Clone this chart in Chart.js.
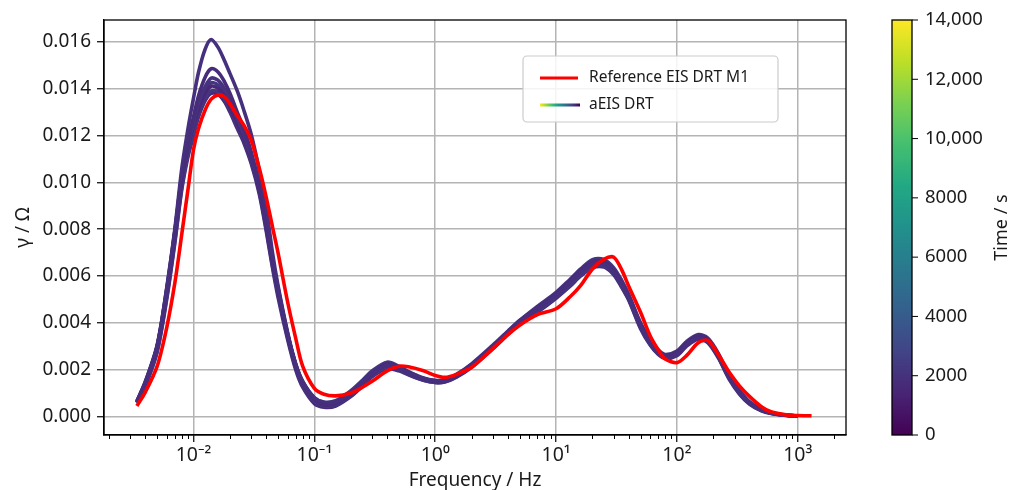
<!DOCTYPE html>
<html><head><meta charset="utf-8">
<script src="https://cdn.jsdelivr.net/npm/chart.js@4.4.1/dist/chart.umd.min.js"></script>
<style>html,body{margin:0;padding:0;background:#fff;}</style>
</head><body>
<canvas id="c" width="1019" height="490"></canvas>
<script>
// ---------- data ----------
const freqs = [0.0034,0.004,0.005,0.006,0.007,0.008,0.009,0.01,0.011,0.0125,0.014,0.016,0.018,0.02,0.023,0.026,0.03,0.035,0.04,0.045,0.05,0.06,0.07,0.08,0.1,0.12,0.15,0.2,0.25,0.3,0.4,0.5,0.6,0.8,1,1.2,1.5,2,3,4,5,7,10,13,16,20,25,30,35,40,50,60,70,80,100,120,150,180,220,270,330,400,500,600,800,1000,1300];

const refDRT = [0.45e-3,1.05e-3,2.15e-3,3.8e-3,5.7e-3,7.8e-3,9.7e-3,11.4e-3,12.3e-3,13.1e-3,13.55e-3,13.73e-3,13.65e-3,13.35e-3,12.85e-3,12.45e-3,11.8e-3,10.6e-3,9.35e-3,8.1e-3,7.0e-3,4.9e-3,3.35e-3,2.15e-3,1.2e-3,0.95e-3,0.88e-3,1.0e-3,1.25e-3,1.5e-3,1.95e-3,2.15e-3,2.12e-3,1.95e-3,1.75e-3,1.67e-3,1.8e-3,2.1e-3,2.9e-3,3.5e-3,3.9e-3,4.35e-3,4.6e-3,5.1e-3,5.6e-3,6.3e-3,6.72e-3,6.8e-3,6.25e-3,5.55e-3,4.45e-3,3.45e-3,2.85e-3,2.45e-3,2.3e-3,2.6e-3,3.15e-3,3.25e-3,2.65e-3,1.9e-3,1.3e-3,0.85e-3,0.42e-3,0.2e-3,0.07e-3,0.04e-3,0.03e-3];

const aeis1 = [0.6e-3,1.4e-3,3.0e-3,5.5e-3,8.0e-3,10.6e-3,12.3e-3,13.6e-3,14.7e-3,15.7e-3,16.1e-3,15.75e-3,15.2e-3,14.65e-3,13.9e-3,13.1e-3,12.05e-3,10.5e-3,8.9e-3,7.0e-3,5.6e-3,3.6e-3,2.25e-3,1.5e-3,0.8e-3,0.6e-3,0.62e-3,1.0e-3,1.45e-3,1.85e-3,2.18e-3,2.05e-3,1.85e-3,1.62e-3,1.52e-3,1.55e-3,1.78e-3,2.22e-3,3.0e-3,3.6e-3,4.05e-3,4.6e-3,5.15e-3,5.7e-3,6.15e-3,6.5e-3,6.5e-3,6.15e-3,5.6e-3,5.05e-3,3.85e-3,3.15e-3,2.7e-3,2.5e-3,2.65e-3,3.05e-3,3.35e-3,3.2e-3,2.55e-3,1.65e-3,1.0e-3,0.55e-3,0.26e-3,0.14e-3,0.05e-3,0.02e-3];
const aeis2 = [0.62e-3,1.45e-3,3.0e-3,5.4e-3,7.9e-3,10.3e-3,11.8e-3,12.8e-3,13.7e-3,14.5e-3,14.85e-3,14.7e-3,14.3e-3,13.8e-3,13.0e-3,12.3e-3,11.3e-3,9.9e-3,8.3e-3,6.7e-3,5.5e-3,3.55e-3,2.2e-3,1.45e-3,0.72e-3,0.5e-3,0.55e-3,0.95e-3,1.4e-3,1.8e-3,2.25e-3,2.1e-3,1.9e-3,1.62e-3,1.5e-3,1.5e-3,1.72e-3,2.18e-3,3.0e-3,3.62e-3,4.1e-3,4.65e-3,5.25e-3,5.8e-3,6.25e-3,6.6e-3,6.6e-3,6.25e-3,5.7e-3,5.15e-3,3.95e-3,3.25e-3,2.8e-3,2.6e-3,2.75e-3,3.15e-3,3.45e-3,3.3e-3,2.65e-3,1.75e-3,1.1e-3,0.6e-3,0.3e-3,0.16e-3,0.05e-3,0.02e-3];
const aeis3 = [0.65e-3,1.5e-3,3.0e-3,5.35e-3,7.8e-3,10.2e-3,11.6e-3,12.5e-3,13.4e-3,14.1e-3,14.45e-3,14.35e-3,14.0e-3,13.5e-3,12.75e-3,12.05e-3,11.1e-3,9.8e-3,8.2e-3,6.65e-3,5.45e-3,3.5e-3,2.2e-3,1.45e-3,0.75e-3,0.55e-3,0.6e-3,1.0e-3,1.45e-3,1.85e-3,2.2e-3,2.05e-3,1.85e-3,1.6e-3,1.5e-3,1.52e-3,1.75e-3,2.2e-3,3.0e-3,3.6e-3,4.05e-3,4.6e-3,5.2e-3,5.75e-3,6.2e-3,6.55e-3,6.55e-3,6.2e-3,5.65e-3,5.1e-3,3.9e-3,3.2e-3,2.75e-3,2.55e-3,2.7e-3,3.1e-3,3.4e-3,3.25e-3,2.6e-3,1.7e-3,1.05e-3,0.58e-3,0.28e-3,0.15e-3,0.05e-3,0.02e-3];
const aeis4 = [0.63e-3,1.45e-3,2.95e-3,5.3e-3,7.75e-3,10.1e-3,11.5e-3,12.4e-3,13.1e-3,13.8e-3,14.1e-3,14.0e-3,13.7e-3,13.2e-3,12.5e-3,11.9e-3,11.0e-3,9.7e-3,8.1e-3,6.6e-3,5.4e-3,3.5e-3,2.2e-3,1.45e-3,0.75e-3,0.55e-3,0.6e-3,1.0e-3,1.45e-3,1.85e-3,2.2e-3,2.05e-3,1.85e-3,1.6e-3,1.5e-3,1.52e-3,1.75e-3,2.2e-3,3.0e-3,3.6e-3,4.05e-3,4.6e-3,5.2e-3,5.75e-3,6.2e-3,6.55e-3,6.55e-3,6.2e-3,5.65e-3,5.1e-3,3.9e-3,3.2e-3,2.75e-3,2.55e-3,2.7e-3,3.1e-3,3.4e-3,3.25e-3,2.6e-3,1.7e-3,1.05e-3,0.58e-3,0.28e-3,0.15e-3,0.05e-3,0.02e-3];
const aeis5 = [0.6e-3,1.35e-3,2.8e-3,5.1e-3,7.5e-3,9.8e-3,11.2e-3,12.1e-3,12.9e-3,13.6e-3,13.9e-3,13.85e-3,13.55e-3,13.1e-3,12.4e-3,11.8e-3,10.9e-3,9.6e-3,8.0e-3,6.45e-3,5.25e-3,3.4e-3,2.1e-3,1.35e-3,0.65e-3,0.45e-3,0.5e-3,0.9e-3,1.35e-3,1.75e-3,2.1e-3,2.0e-3,1.8e-3,1.55e-3,1.45e-3,1.48e-3,1.7e-3,2.15e-3,2.95e-3,3.55e-3,4.0e-3,4.5e-3,5.1e-3,5.6e-3,6.05e-3,6.4e-3,6.42e-3,6.1e-3,5.55e-3,5.0e-3,3.8e-3,3.1e-3,2.68e-3,2.5e-3,2.65e-3,3.05e-3,3.35e-3,3.2e-3,2.55e-3,1.65e-3,1.0e-3,0.55e-3,0.26e-3,0.14e-3,0.05e-3,0.02e-3];
const aeis6 = [0.58e-3,1.3e-3,2.75e-3,5.0e-3,7.4e-3,9.7e-3,11.1e-3,12.0e-3,12.8e-3,13.5e-3,13.8e-3,13.75e-3,13.45e-3,13.0e-3,12.3e-3,11.7e-3,10.8e-3,9.5e-3,7.9e-3,6.35e-3,5.1e-3,3.3e-3,2.0e-3,1.25e-3,0.55e-3,0.4e-3,0.45e-3,0.85e-3,1.3e-3,1.7e-3,2.05e-3,1.95e-3,1.78e-3,1.55e-3,1.45e-3,1.47e-3,1.68e-3,2.1e-3,2.9e-3,3.5e-3,3.95e-3,4.45e-3,5.05e-3,5.55e-3,6.0e-3,6.35e-3,6.38e-3,6.05e-3,5.5e-3,4.95e-3,3.75e-3,3.05e-3,2.65e-3,2.48e-3,2.6e-3,3.0e-3,3.3e-3,3.15e-3,2.5e-3,1.6e-3,0.95e-3,0.52e-3,0.24e-3,0.13e-3,0.04e-3,0.02e-3];
const aeis7 = [0.66e-3,1.5e-3,3.05e-3,5.45e-3,7.9e-3,10.3e-3,11.7e-3,12.6e-3,13.3e-3,13.95e-3,14.25e-3,14.15e-3,13.8e-3,13.35e-3,12.6e-3,11.95e-3,11.05e-3,9.75e-3,8.15e-3,6.6e-3,5.4e-3,3.5e-3,2.25e-3,1.5e-3,0.8e-3,0.62e-3,0.68e-3,1.1e-3,1.55e-3,1.95e-3,2.32e-3,2.15e-3,1.92e-3,1.65e-3,1.55e-3,1.56e-3,1.8e-3,2.25e-3,3.05e-3,3.65e-3,4.1e-3,4.7e-3,5.3e-3,5.85e-3,6.3e-3,6.7e-3,6.7e-3,6.35e-3,5.8e-3,5.2e-3,4.0e-3,3.3e-3,2.85e-3,2.65e-3,2.8e-3,3.2e-3,3.5e-3,3.35e-3,2.7e-3,1.75e-3,1.1e-3,0.62e-3,0.3e-3,0.16e-3,0.06e-3,0.02e-3];

const yTicks = [0,0.002,0.004,0.006,0.008,0.010,0.012,0.014,0.016];
const xMajorTicks = [0.01,0.1,1,10,100,1000];
const xTickLabels = ['10\u207B\u00B2','10\u207B\u00B9','10\u2070','10\u00B9','10\u00B2','10\u00B3'];
const cbTicks = [0,2000,4000,6000,8000,10000,12000,14000];
const cbTickLabels = ['0','2000','4000','6000','8000','10,000','12,000','14,000'];
const cbTitle = 'Time / s';

// ---------- styling ----------
const FONT = "'Noto Sans', 'DejaVu Sans', sans-serif";
const TXT = '#1a1a1a';
const GRID = '#b4b4b4';
const viridis = ['#440154','#482475','#414487','#355f8d','#2a788e','#21918c','#22a884','#44bf70','#7ad151','#bddf26','#fde725'];
const purpleColors = ['#46307e','#472c7a','#45337f','#482878','#443782','#472a79','#453480'];

const aeisSeries = [aeis1,aeis2,aeis3,aeis4,aeis5,aeis6,aeis7];
const toPts = arr => arr.map((v,i) => ({x: freqs[i], y: v}));
const isMajor = v => xMajorTicks.includes(v);

const datasets = [{
  label: 'Reference EIS DRT M1', data: toPts(refDRT), borderColor: '#ff0000',
  borderWidth: 3.6, pointRadius: 0, tension: 0.3, fill: false
}].concat(aeisSeries.map((a, i) => ({
  label: i === 0 ? 'aEIS DRT' : '', data: toPts(a), borderColor: purpleColors[i],
  borderWidth: 3.6, pointRadius: 0, tension: 0.3, fill: false
})));

const framePlugin = {
  id: 'frame',
  afterDraw(chart) {
    const {ctx, chartArea: a} = chart;
    const xs = chart.scales.x;
    ctx.save();
    ctx.strokeStyle = '#000'; ctx.lineWidth = 1;
    xs.ticks.forEach(t => {
      if (!isMajor(t.value)) {
        const px = Math.round(xs.getPixelForValue(t.value)) + 0.5;
        ctx.beginPath(); ctx.moveTo(px, a.bottom); ctx.lineTo(px, a.bottom + 4); ctx.stroke();
      }
    });
    ctx.lineWidth = 1.3; ctx.strokeStyle = '#000';
    ctx.strokeRect(a.left, a.top, a.right - a.left, a.bottom - a.top);

    // legend
    const lx = 523, ly = 56, lw = 255, lh = 66, r = 4;
    ctx.fillStyle = 'rgba(255,255,255,0.85)';
    ctx.strokeStyle = '#cccccc'; ctx.lineWidth = 1.2;
    ctx.beginPath(); ctx.roundRect(lx, ly, lw, lh, r); ctx.fill(); ctx.stroke();
    ctx.lineWidth = 3;
    ctx.strokeStyle = chart.data.datasets[0].borderColor;
    ctx.beginPath(); ctx.moveTo(540, 78); ctx.lineTo(578, 78); ctx.stroke();
    const g = ctx.createLinearGradient(540, 0, 580, 0);
    viridis.slice().reverse().forEach((c, i, arr) => g.addColorStop(i / (arr.length - 1), c));
    ctx.strokeStyle = g;
    ctx.beginPath(); ctx.moveTo(540, 105); ctx.lineTo(580, 105); ctx.stroke();
    ctx.fillStyle = TXT; ctx.font = "15.5px " + FONT; ctx.textBaseline = 'middle'; ctx.textAlign = 'left';
    ctx.fillText(chart.data.datasets[0].label, 589, 78);
    ctx.fillText(chart.data.datasets[1].label, 589, 105);

    // colorbar
    const cx = 892, cw = 20, top = a.top, bot = a.bottom;
    const cg = ctx.createLinearGradient(0, bot, 0, top);
    viridis.forEach((c, i) => cg.addColorStop(i / (viridis.length - 1), c));
    ctx.fillStyle = cg; ctx.fillRect(cx, top, cw, bot - top);
    ctx.strokeStyle = '#000'; ctx.lineWidth = 1.3; ctx.strokeRect(cx, top, cw, bot - top);
    const cmax = cbTicks[cbTicks.length - 1];
    ctx.font = "18.5px " + FONT; ctx.fillStyle = TXT; ctx.textAlign = 'left'; ctx.textBaseline = 'middle';
    ctx.lineWidth = 1;
    cbTicks.forEach((v, i) => {
      const py = bot - (v / cmax) * (bot - top);
      ctx.beginPath(); ctx.moveTo(cx + cw, py); ctx.lineTo(cx + cw + 6, py); ctx.stroke();
      ctx.fillText(cbTickLabels[i], 925, py);
    });
    ctx.save();
    ctx.translate(1002, (top + bot) / 2); ctx.rotate(-Math.PI / 2);
    ctx.textAlign = 'center'; ctx.font = "18px " + FONT;
    ctx.fillText(cbTitle, 0, 0);
    ctx.restore();
    ctx.restore();
  }
};

new Chart(document.getElementById('c'), {
  type: 'line',
  data: { datasets },
  plugins: [framePlugin],
  options: {
    responsive: false, animation: false, devicePixelRatio: 1,
    layout: { padding: { left: 0, right: 173, top: 20, bottom: 0 } },
    plugins: { legend: { display: false }, tooltip: { enabled: false } },
    scales: {
      x: {
        type: 'logarithmic', min: 0.001816, max: 2506,
        afterBuildTicks: s => {
          const t = [];
          for (let k = -3; k <= 3; k++) {
            for (let m = 1; m <= 9; m++) {
              const v = m === 1 ? xMajorTicks.find(z => Math.abs(Math.log10(z) - k) < 1e-9) : m * Math.pow(10, k);
              if (v !== undefined && v >= s.min && v <= s.max) t.push({ value: v, major: m === 1 });
            }
          }
          s.ticks = t;
        },
        afterFit: s => { s.height = 55; },
        grid: {
          color: c => (c.tick && isMajor(c.tick.value)) ? GRID : 'rgba(0,0,0,0)',
          tickColor: c => (c.tick && isMajor(c.tick.value)) ? '#000' : 'rgba(0,0,0,0)',
          lineWidth: 1.5, tickLength: 7, tickWidth: 1.2
        },
        border: { display: true, color: '#000', width: 1.3 },
        ticks: {
          autoSkip: false, maxRotation: 0, minRotation: 0, color: TXT, padding: 2,
          font: { family: FONT, size: 19.5 },
          callback: v => { const i = xMajorTicks.indexOf(v); return i >= 0 ? xTickLabels[i] : ''; }
        },
        title: { display: true, text: 'Frequency / Hz', color: TXT, font: { family: FONT, size: 19, lineHeight: 1 }, padding: { top: 0, bottom: 0 } }
      },
      y: {
        min: -0.00079, max: 0.01693,
        afterBuildTicks: s => { s.ticks = yTicks.map(v => ({ value: v })); },
        afterFit: s => { s.width = 104; },
        grid: { color: GRID, lineWidth: 1.5, tickColor: '#000', tickLength: 7, tickWidth: 1.2 },
        border: { display: true, color: '#000', width: 1.3 },
        ticks: { color: TXT, padding: 6, font: { family: FONT, size: 19 }, callback: v => v.toFixed(3) },
        title: { display: true, text: 'γ / Ω', color: TXT, font: { family: FONT, size: 19 }, padding: { top: 12, bottom: 0 } }
      }
    }
  }
});
</script>
</body></html>
